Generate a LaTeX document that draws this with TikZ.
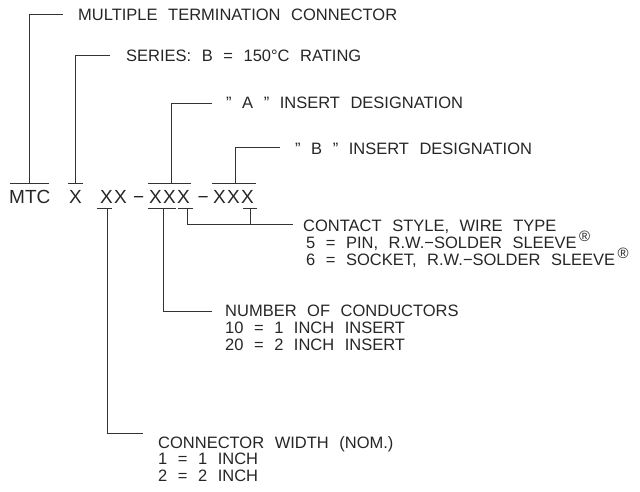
\documentclass[tikz,border=0pt]{standalone}
\usepackage{fontspec}
\setmainfont{Liberation Sans}[WordSpace=2.3]
\newcommand{\regmark}{\raisebox{6.5pt}{\fontsize{15}{15}\selectfont\,®}}
\begin{document}
\begin{tikzpicture}[x=1pt,y=-1pt,
  lbl/.style={anchor=base west, inner sep=0pt, font=\fontsize{16.5}{16.5}\selectfont, text=black!85},
  code/.style={anchor=base west, inner sep=0pt, font=\fontsize{19}{19}\selectfont, text=black!85},
  wire/.style={draw=black!80, line width=0.9pt}]
\useasboundingbox (0,0) rectangle (640,492);

% ---------- labels ----------
\node[lbl] (mtcl) at (78,21) {MULTIPLE TERMINATION CONNECTOR};
\node[lbl] (serl) at (126,62) {SERIES: B = 150°C RATING};
\node[lbl] (al) at (226,109) {”\ A\ ” INSERT DESIGNATION};
\node[lbl] (bl) at (295,155) {”\ B\ ” INSERT DESIGNATION};
\node[lbl] (cl) at (303,231) {CONTACT STYLE, WIRE TYPE};
\node[lbl] (cl1) at (306,248) {5 = PIN, R.W.−SOLDER SLEEVE\regmark};
\node[lbl] (cl2) at (306,265) {6 = SOCKET, R.W.−SOLDER SLEEVE\regmark};
\node[lbl] (nl) at (225,316) {NUMBER OF CONDUCTORS};
\node[lbl] (nl1) at (225,333) {10 = 1 INCH INSERT};
\node[lbl] (nl2) at (225,350) {20 = 2 INCH INSERT};
\node[lbl] (wl) at (158,448) {CONNECTOR WIDTH (NOM.)};
\node[lbl] (wl1) at (158,464.5) {1 = 1 INCH};
\node[lbl] (wl2) at (158,481) {2 = 2 INCH};

% ---------- code row ----------
\node[code] (mtc) at (9,203) {MTC};
\node[code] (x0) at (69,203) {X};
\node[code] (xa) at (100,203) {X};
\node[code] (xb) at (114,203) {X};
\node[code] (d1) at (133,203) {−};
\node[code] (xc) at (149,203) {X};
\node[code] (xd) at (163,203) {X};
\node[code] (xe) at (177,203) {X};
\node[code] (d2) at (197.5,203) {−};
\node[code] (xf) at (213,203) {X};
\node[code] (xg) at (227,203) {X};
\node[code] (xh) at (241,203) {X};

% ---------- bars ----------
\draw[wire] (10,183) -- (49,183);
\draw[wire] (68,183) -- (83,183);
\draw[wire] (148,183) -- (191,183);
\draw[wire] (212,183) -- (256,183);
\draw[wire] (97,208) -- (112,208);
\draw[wire] (148,208) -- (176,208);
\draw[wire] (178,208) -- (193,208);
\draw[wire] (243,208) -- (257,208);

\coordinate (pmtc) at (29,183);
\coordinate (px0) at (75,183);
\coordinate (pa) at (171,183);
\coordinate (pb) at (235,183);
\coordinate (pw) at (107,208);
\coordinate (pn) at (163,208);
\coordinate (pc1) at (187,208);
\coordinate (pc2) at (250,208);

% ---------- leaders ----------
\draw[wire] (pmtc) |- (63,14);
\draw[wire] (px0) |- (110,55);
\draw[wire] (pa) |- (212,103);
\draw[wire] (pb) |- (280,147);
\draw[wire] (pc1) |- (293,224);
\draw[wire] (pc2) -- (250,224);
\draw[wire] (pn) |- (212,311);
\draw[wire] (pw) |- (143,433);
\end{tikzpicture}
\end{document}
